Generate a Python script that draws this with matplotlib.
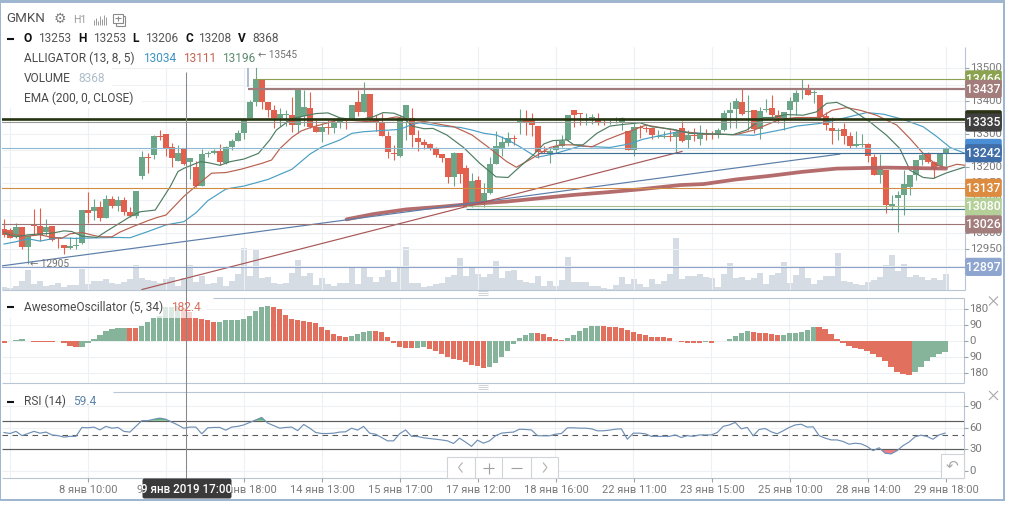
import numpy as np
import matplotlib
matplotlib.use("Agg")
import matplotlib.pyplot as plt
from matplotlib.patches import FancyBboxPatch, Rectangle

plt.rcParams['font.family'] = ['Roboto', 'DejaVu Sans']

W, H = 1016, 507

# hourly candles
opens = [13011,13009,12986,13017,12956,13025,13021,13004,13021,12986,
         12963,12955,12959,12970,13069,13067,13077,13046,13103,13081,
         13100,13062,13051,13172,13229,13237,13294,13299,13259,13219,
         13253,13216,13199,13143,13238,13243,13247,13211,13261,13280,
         13304,13350,13398,13466,13396,13372,13350,13357,13357,13327,
         13354,13379,13322,13305,13322,13319,13334,13342,13344,13396,
         13368,13421,13342,13337,13294,13241,13233,13349,13350,13287,
         13276,13269,13258,13239,13226,13170,13241,13196,13090,13160,
         13095,13122,13209,13255,13274,13287,13332,13342,13342,13324,
         13248,13238,13251,13263,13282,13373,13363,13354,13349,13342,
         13331,13335,13335,13337,13309,13251,13320,13319,13319,13292,
         13292,13294,13291,13317,13283,13298,13285,13300,13298,13300,
         13312,13364,13375,13397,13368,13372,13314,13372,13378,13357,
         13349,13372,13398,13438,13439,13423,13418,13354,13317,13310,
         13315,13293,13265,13266,13269,13231,13175,13192,13082,13106,
         13115,13140,13175,13221,13238,13216,13202,13241]
highs = [13041,13016,13031,13019,12993,13071,13074,13041,13021,12988,
         12963,12988,12986,13069,13123,13102,13098,13115,13113,13113,
         13110,13077,13127,13249,13243,13297,13312,13299,13272,13266,
         13253,13226,13219,13253,13249,13253,13270,13263,13284,13312,
         13347,13403,13545,13468,13398,13388,13380,13374,13413,13435,
         13435,13428,13342,13332,13342,13344,13349,13344,13388,13433,
         13457,13421,13358,13365,13310,13267,13358,13388,13378,13312,
         13284,13274,13261,13239,13226,13246,13243,13206,13181,13172,
         13150,13229,13309,13294,13307,13297,13375,13373,13363,13324,
         13263,13259,13282,13297,13358,13373,13365,13365,13361,13363,
         13347,13347,13352,13352,13309,13334,13327,13324,13322,13312,
         13310,13312,13314,13340,13312,13317,13326,13314,13310,13317,
         13372,13398,13408,13441,13418,13372,13382,13405,13418,13372,
         13367,13411,13433,13468,13451,13435,13418,13367,13352,13317,
         13332,13307,13309,13300,13273,13239,13239,13192,13115,13128,
         13190,13175,13221,13246,13246,13218,13243,13259]
lows = [12988,12983,12983,12950,12905,12994,12976,12994,12976,12953,
        12936,12950,12950,12966,13031,13039,13037,13046,13076,13066,
        13054,13047,13044,13163,13183,13223,13282,13233,13199,13219,
        13206,13163,13140,13143,13231,13239,13206,13209,13251,13278,
        13286,13350,13384,13377,13352,13317,13324,13324,13307,13302,
        13324,13317,13305,13276,13300,13304,13317,13314,13342,13355,
        13368,13337,13309,13295,13226,13221,13231,13282,13261,13249,
        13253,13251,13231,13214,13152,13143,13150,13077,13079,13090,
        13077,13118,13209,13233,13263,13267,13300,13297,13294,13226,
        13241,13211,13241,13261,13280,13322,13327,13327,13330,13327,
        13327,13329,13332,13312,13251,13233,13287,13307,13284,13287,
        13289,13280,13241,13276,13256,13279,13266,13281,13286,13289,
        13310,13317,13319,13357,13312,13304,13286,13367,13352,13332,
        13312,13342,13357,13405,13417,13395,13350,13312,13271,13281,
        13271,13256,13259,13259,13216,13175,13150,13059,13069,13003,
        13054,13115,13160,13206,13211,13165,13200,13198]
closes = [12994,12985,13017,12956,12990,13022,12994,13017,12978,12983,
          12955,12960,12962,13069,13061,13077,13046,13103,13081,13100,
          13064,13051,13127,13229,13226,13294,13292,13256,13227,13241,
          13208,13226,13142,13239,13243,13247,13216,13261,13280,13302,
          13344,13398,13466,13398,13374,13347,13360,13362,13327,13433,
          13382,13322,13307,13322,13319,13332,13347,13339,13388,13368,
          13421,13344,13337,13295,13246,13238,13347,13388,13297,13277,
          13267,13254,13236,13226,13170,13243,13179,13079,13157,13093,
          13120,13208,13263,13276,13287,13284,13340,13332,13327,13246,
          13245,13248,13263,13280,13358,13358,13360,13356,13351,13332,
          13329,13337,13337,13350,13251,13320,13317,13316,13297,13294,
          13294,13292,13307,13278,13296,13293,13300,13296,13296,13312,
          13364,13374,13401,13362,13371,13315,13370,13377,13357,13347,
          13366,13401,13425,13440,13419,13426,13352,13327,13310,13312,
          13293,13263,13271,13269,13233,13175,13193,13084,13087,13115,
          13147,13175,13221,13236,13216,13193,13241,13256]
volumes = [1720,980,2710,6640,14510,4180,6400,2710,3440,4920,
           1720,3440,3440,15250,4180,6400,6400,7870,4920,4180,
           5660,7870,18200,8610,7130,6400,4920,7870,9350,2710,
           8368,18200,5660,10090,4180,4920,9350,2710,6400,11560,
           30500,10090,29270,8610,9350,4920,4180,4920,12300,21650,
           10090,12300,3440,8610,4180,2710,4920,4920,17710,3940,
           16730,9100,5410,9100,14270,5410,17710,31240,4670,4670,
           1720,2950,3940,4670,9100,10580,23120,9840,17710,11320,
           9100,11320,20910,8360,13530,14270,6890,5410,4670,9840,
           2460,6150,2460,6890,23860,5410,5410,5410,2460,2460,
           740,250,3200,9100,3940,7630,3940,1720,7630,3940,
           6150,11320,37880,7630,9840,9840,11320,9100,8360,1720,
           11320,19430,8360,9100,6890,8360,12050,3940,10580,12050,
           20170,4670,10580,16480,8360,3940,6890,9840,9840,26810,
           6150,5410,3940,3200,5410,6890,9100,17960,25340,13530,
           18700,9100,10580,9100,6890,8360,6890,11320]

# indicators
ao_values = [-13,-4,3,7,-4,-5,-6,-7,-8,-4,
             -13,-30,-36,-35,-11,9,30,57,68,72,
             74,73,72,83,104,128,141,190,193,196,
             182.4,160,130,125,115,107,108,115,116,117,
             125,140,170,190,196,190,179,145,123,115,
             114,106,98,75,60,36,26,23,26,38,
             49,55,54,49,21,-13,-38,-40,-41,-40,
             -36,-47,-58,-75,-94,-104,-108,-119,-138,-143,
             -153,-147,-126,-91,-57,-17,17,32,43,42,
             38,23,11,4,17,32,55,74,83,84,
             83,77,76,72,60,51,40,32,23,22,
             21,17,-4,-5,-11,-12,-13,-9,-10,-3,
             -2,9,26,43,55,49,43,42,38,34,
             35,43,44,51,60,77,76,68,38,9,
             -11,-30,-42,-45,-58,-77,-94,-115,-149,-175,
             -187,-194,-177,-149,-113,-92,-75,-64]
rsi_values = [53.4,52,55,49,52,55,52.5,54,50,49,
              47,48,48,60.5,60,61,57,62,59.5,60.5,
              55,54,62,70,70,72,73.6,72,68,64,
              59.4,61,61,51.6,60,60.5,60.5,56.7,61,62,
              64,67.5,71,74.5,66.6,63,59.5,60.5,61,56,
              64.7,59.5,53.5,52,52,52.5,54,54.4,59.5,56.7,
              62,52.5,51,46.4,41.7,41.7,51.6,57,48,47.8,
              46,45,44,43,41.7,38,45.5,40,34,42.7,
              38.4,41.7,48.8,52.5,53.4,54,58,57.7,57,49,
              48.8,48.8,51,52,60,60,59.5,59.5,58.6,55.8,
              55.8,56.7,58,58.6,44,52.5,52.5,51.6,48,48,
              48,48,50,46.4,49,48,50,50,50,53.4,
              62,64,67.5,58.6,60.5,48.8,57.7,59,54.4,51.6,
              55.8,60.5,64,65,61,61.4,49,45.5,43,43,
              40.8,37,38.4,37.5,33.8,28,32,24.4,23.4,28,
              35,40,47.4,49.7,47.8,44,50,52.5]

jaw_bars = [0,2,4,6,9,12,16,19,21,24,27,30,32,34,37,40,44,48,51,53,56,58,60,66,68,69.3,72.7,76,78,80,82,84,86,88.8,91.5,93.8,96,98.8,101,104.3,106.5,109.3,112.4,118,124.9,129.9,132.1,136,140.4,143.8,146.6,149.9,153.2,155.4,157.7,160.2]
jaw_vals = [12966,12973,12982,12975,12985,12983,12985,12986,12985,13004,13024,13034,13061,13098,13133,13142,13162,13193,13239,13261,13282,13302,13307,13314,13329,13334,13324,13320,13312,13302,13297,13282,13261,13229,13239,13251,13263,13261,13259,13270,13284,13295,13307,13300,13296,13314,13324,13332,13350,13365,13360,13344,13322,13293,13259,13241]
teeth_bars = [0,2,4,6,8,9.6,11,13,14.5,16,18,19.3,21.5,24,25.6,27,30,32,34.6,37,39.5,43,44.6,46,48,49.5,51,56,61,63,65.4,68,70.4,72.7,75,78,81,83.8,85.4,88,91,92.7,95,98,100.4,103.2,104.9,107,109.3,111.6,113,116.6,122,125,127,129.3,132,136,138,140.4,142.7,145.4,148.8,151,153.2,155.4,157,158.8,160.2]
teeth_vals = [13004,12994,12990,12994,12986,12983,12997,13001,12994,12988,12988,13002,13019,13037,13047,13054,13111,13142,13181,13183,13193,13211,13221,13256,13290,13309,13319,13344,13337,13344,13352,13342,13337,13329,13322,13297,13256,13216,13199,13226,13259,13267,13267,13261,13282,13302,13312,13327,13320,13312,13307,13300,13298,13312,13327,13344,13350,13350,13372,13380,13372,13357,13327,13286,13241,13206,13198,13208,13205]
lips_bars = [0,2,4,6.5,8,10,11.3,13,15.5,17,18.8,21,22.7,25.2,27.7,29,30,32.7,34,36,37.7,40,42.4,44.3,45.4,46.5,48,52,54,56,58.8,61.5,63.2,65,66.5,68,70,71.5,73.8,76.6,79.3,82,84,86,88.2,90,91.5,93.8,95,96.5,98.8,101,103.2,106,108,111.6,114.3,121.5,123.8,126.6,128.2,130.4,133.2,135.4,137.1,138.8,141,144.3,147.1,149.3,151,153.2,154.9,157.1,160.2]
lips_vals = [12999,12988,12994,12997,12999,13006,13004,12990,12986,13004,13024,13049,13064,13069,13140,13186,13196,13216,13213,13205,13216,13224,13241,13282,13312,13327,13347,13362,13364,13349,13342,13352,13365,13363,13352,13324,13316,13317,13297,13259,13211,13170,13168,13201,13236,13270,13280,13282,13267,13267,13302,13324,13329,13334,13322,13314,13302,13298,13312,13350,13350,13359,13357,13367,13393,13396,13377,13337,13296,13256,13190,13168,13165,13182,13200]
ema_bars = [57.1,61.6,67,72.7,78.2,83.8,89.3,94.9,100.4,106,112.7,116.6,122,127.7,133,138.8,147,157]
ema_vals = [13041,13057,13071,13079,13088,13095,13105,13115,13123,13132,13145,13148,13162,13173,13185,13195,13198,13195]

# drawn levels: price, colour, width, first bar
level_prices = [13466,13437,13345,13335,13258,13242,13137,13080,13071,13026,12897]
level_colors = ['#8d9f55','#a07c7c','#263410','#9a9a94','#8fb9d2','#3f6f96','#d08c44','#a5c08c','#3d7c86','#9a7474','#8ea3c9']
level_widths = [0.8,1.6,1.9,0.8,0.8,0.85,0.8,0.8,0.85,0.8,0.8]
level_starts = [41.8,40.6,-1,-1,-1,89,-1,77,77,-1,-1]

trend_blue = ([-0.67,139.3],[12899,13239])
trend_red = ([23,113],[12828,13247])

# labels on the price scale, bottom of the stack first; the covered ones carry no readable text
badge_prices = [13466,13437,13345,13335,13258,13242,13137,13080,13026,12897]
badge_texts = ['13466','13437','','13335','','13242','13137','13080','13026','12897']
badge_colors = ['#8ba24e','#a37c7c','#2a3314','#404040','#4a8fd6','#406ea8','#dd8b3f','#b5cf98','#a37c7c','#8ea6cf']

xtick_bars = [14,27,40,53,66,79,92,105,118,131,144,157]
xtick_labels = ['8 янв 10:00','9 янв 14:00','10 янв 18:00','14 янв 13:00','15 янв 17:00','17 янв 12:00',
                '18 янв 16:00','22 янв 11:00','23 янв 15:00','25 янв 10:00','28 янв 14:00','29 янв 18:00']
price_ticks = [12900,12950,13000,13050,13100,13150,13200,13250,13300,13350,13400,13450,13500]
ao_ticks = [-180,-90,0,90,180]
rsi_ticks = [0,30,60,90]
crosshair_bar = 30.4

GREEN = '#6ca688'
RED = '#e3604e'
GRID = '#eef1f4'
EDGE = '#b7c5d4'
TICK = '#7a7a7a'


def px_axes(left, top, right, bottom, **kw):
    return fig.add_axes([left / W, 1 - bottom / H, (right - left) / W, (bottom - top) / H], **kw)


fig = plt.figure(figsize=(W / 100, H / 100), dpi=100, facecolor='white')

bars = np.arange(len(opens))
x_lim = (-0.333, 160.17)
o, h, l, c = map(np.array, (opens, highs, lows, closes))
up = c >= o

ax = px_axes(2, 47, 965, 289.5)
ax_vol = px_axes(2, 47, 965, 289.5)
ax_ao = px_axes(2, 297.5, 964, 383)
ax_rsi = px_axes(2, 391.5, 964, 478.3)
for a in (ax, ax_vol, ax_ao, ax_rsi):
    a.set_xlim(*x_lim)
    a.set_xticks([])
    a.set_yticks([])
    for s in a.spines.values():
        s.set_visible(False)
    a.vlines([b for b in [1] + xtick_bars], 0, 1, transform=a.get_xaxis_transform(), color=GRID, lw=0.75, zorder=0)

# price panel
ax.set_ylim(12828, 13564)
ax.patch.set_alpha(0)
ax.set_zorder(2)
ax_vol.set_zorder(1)
ax_vol.set_ylim(0, 178965)
ax_vol.bar(bars, volumes, width=0.84, color='#d6dce3', zorder=1)
ax.hlines(price_ticks, *x_lim, color=GRID, lw=0.75, zorder=0)

ax.vlines(bars[up], l[up], h[up], color=GREEN, lw=0.8, zorder=2)
ax.vlines(bars[~up], l[~up], h[~up], color=RED, lw=0.8, zorder=2)
ax.bar(bars[up], (c - o)[up], bottom=o[up], width=0.84, color=GREEN, zorder=3)
ax.bar(bars[~up], (o - c)[~up], bottom=c[~up], width=0.84, color=RED, zorder=3)

ax.plot(jaw_bars, jaw_vals, color='#4a9fc4', lw=0.85, zorder=4)
ax.plot(teeth_bars, teeth_vals, color='#b8604e', lw=0.85, zorder=4)
ax.plot(lips_bars, lips_vals, color='#4f7d62', lw=0.85, zorder=4)
ax.plot(ema_bars, ema_vals, color='#b06464', lw=2.7, solid_capstyle='round', zorder=4, alpha=0.95)
ax.plot(*trend_blue, color='#5b7da9', lw=0.85, zorder=4)
ax.plot(*trend_red, color='#a85656', lw=0.85, zorder=4)
ax.vlines(40.67, 13444, 13500, color='#aebcd3', lw=1.4, zorder=4)

for price, col, lw, start in zip(level_prices, level_colors, level_widths, level_starts):
    ax.hlines(price, start, x_lim[1], color=col, lw=lw, zorder=5)

# oscillator panel
ax_ao.set_ylim(-239, 244.5)
ax_ao.hlines(ao_ticks, *x_lim, color=GRID, lw=0.75, zorder=0)
ao = np.array(ao_values, dtype=float)
ao_up = np.diff(ao, prepend=ao[0] + 1) > 0
ax_ao.bar(bars, ao, width=0.88, color=np.where(ao_up, '#85b49a', '#e2705f'), zorder=2)

# rsi panel
ax_rsi.set_ylim(-10.8, 110.9)
ax_rsi.hlines(rsi_ticks, *x_lim, color=GRID, lw=0.75, zorder=0)
rsi = np.array(rsi_values)
ax_rsi.hlines([70, 30], *x_lim, color='#5c5c5c', lw=0.85, zorder=3)
ax_rsi.hlines(50, *x_lim, color='#5c5c5c', lw=0.8, linestyles=(0, (5, 4)), zorder=3)
ax_rsi.fill_between(bars, rsi, 70, where=rsi > 70, interpolate=True, color='#5cb878', lw=0, zorder=2)
ax_rsi.fill_between(bars, rsi, 30, where=rsi < 30, interpolate=True, color='#f07f86', lw=0, zorder=2)
ax_rsi.plot(bars, rsi, color='#6f8fb5', lw=0.85, zorder=4)

# everything else sits on a canvas measured in image pixels
top = fig.add_axes([0, 0, 1, 1], zorder=10)
top.set_xlim(0, W)
top.set_ylim(H, 0)
top.axis('off')
top.patch.set_alpha(0)


def txt(x, y, s, size=8.6, color='#4a4a4a', ha='left', weight='normal', z=20):
    top.text(x, y, s, fontsize=size, color=color, ha=ha, va='center', fontweight=weight, zorder=z)


def rule(x0, y0, x1, y1, color=EDGE, lw=0.8, z=12):
    top.plot([x0, x1], [y0, y1], color=color, lw=lw, zorder=z, solid_capstyle='butt')


def bar_px(i):
    return 4 + (i * 6)


def price_py(v):
    return H - ax.transData.transform((0, v))[1]


def value_py(a, v):
    return H - a.transData.transform((0, v))[1]


# panel edges
rule(965, 47, 965, 289.5)
rule(2, 289.5, 965, 289.5)
rule(213, 297.5, 964, 297.5)
rule(964, 297.5, 964, 383)
rule(2, 383, 964, 383)
rule(113, 391.5, 964, 391.5)
rule(964, 391.5, 964, 478.3)
rule(2, 478.3, 964, 478.3)

# legend backgrounds hide whatever runs beneath them
top.add_patch(Rectangle((2, 47), 255.5, 21, color='white', lw=0, zorder=11))
top.add_patch(Rectangle((2, 68), 110, 20, color='white', lw=0, zorder=11))
top.add_patch(Rectangle((2, 88), 140, 20, color='white', lw=0, zorder=11))
top.add_patch(Rectangle((2, 298), 205, 20, color='white', alpha=0.72, lw=0, zorder=11))
top.add_patch(Rectangle((2, 392), 111, 13, color='white', lw=0, zorder=11))

# crosshair
cross_x = bar_px(crosshair_bar)
rule(cross_x, 72, cross_x, 480, color='#85888c', lw=0.75, z=13)

# y scales
for v in price_ticks:
    if v == 12900:
        continue
    py = price_py(v)
    rule(965, py, 969, py, color='#9aa4ae')
    txt(970, py, str(v), size=8.2, color=TICK, z=14)
for v in ao_ticks:
    py = value_py(ax_ao, v)
    rule(964, py, 968, py, color='#9aa4ae')
    txt(969, py, str(abs(v)), size=8.2, color=TICK)
for v in rsi_ticks:
    py = value_py(ax_rsi, v)
    rule(964, py, 968, py, color='#9aa4ae')
    txt(969, py, str(v), size=8.2, color=TICK)

for z_step, (price, label, col) in enumerate(zip(badge_prices, badge_texts, badge_colors)):
    py = price_py(price)
    z = 15 + z_step * 0.1
    top.add_patch(FancyBboxPatch((966, py - 8.2), 35, 16.6, boxstyle='round,pad=0.8,rounding_size=2',
                                 fc=col, ec='none', zorder=z))
    top.text(983.5, py + 0.4, label, fontsize=8.8, color='white', ha='center', va='center',
             fontweight='medium', zorder=z + 0.05)

# x scale
for b, label in zip(xtick_bars, xtick_labels):
    bx = bar_px(b)
    rule(bx, 478.3, bx, 482, color='#9aa4ae')
    txt(bx, 489.7, label, size=8.0, color=TICK, ha='center')

# hovered time
top.add_patch(FancyBboxPatch((144, 480), 86, 17, boxstyle='round,pad=1.5,rounding_size=2',
                             fc='#3a3a3a', ec='none', zorder=21))
top.text(187, 489.5, '9 янв 2019 17:00', fontsize=8.4, color='white', ha='center', va='center',
         fontweight='medium', zorder=22)

# header
txt(6, 19, 'GMKN', size=9.6, color='#505050')
top.text(60, 18.5, '\u2699', fontsize=10, color='#808080', ha='center', va='center',
         family='DejaVu Sans', zorder=20)
txt(73, 20, 'H1', size=7.6, color='#9a9a9a')
for i, hgt in enumerate([5, 7, 4, 9, 6, 10, 8]):
    rule(93.5 + i * 2, 24.5, 93.5 + i * 2, 24.5 - hgt, color='#9a9a9a', lw=0.7)
top.add_patch(Rectangle((113, 13.5), 9.5, 9.5, fc='none', ec='#8a8a8a', lw=0.8, zorder=20))
rule(122.5, 16, 125, 16, color='#8a8a8a', z=20)
rule(125, 16, 125, 25.5, color='#8a8a8a', z=20)
rule(115.5, 25.5, 125, 25.5, color='#8a8a8a', z=20)
rule(115.5, 23, 115.5, 25.5, color='#8a8a8a', z=20)
rule(115, 18.2, 120.5, 18.2, color='#8a8a8a', z=20)
rule(117.8, 15.5, 117.8, 21, color='#8a8a8a', z=20)

# legend rows
for y in (38.5, 307, 402):
    rule(7, y, 14, y, color='#111111', lw=1.5, z=20)
for x, letter, x2, val in [(24, 'O', 38, '13253'), (78, 'H', 93, '13253'), (132, 'L', 145, '13206'),
                           (185, 'C', 198, '13208'), (238, 'V', 252, '8368')]:
    txt(x, 38.5, letter, color='#111111', weight='bold')
    txt(x2, 38.5, val, color='#555555')

txt(24, 58.5, 'ALLIGATOR (13, 8, 5)')
txt(143, 58.5, '13034', color='#3c93c2')
txt(183, 58.5, '13111', color='#c8614f')
txt(222, 58.5, '13196', color='#5d8a6e')
txt(24, 78.5, 'VOLUME')
txt(78, 78.5, '8368', color='#aebccb')
txt(24, 98.5, 'EMA (200, 0, CLOSE)')
txt(24, 307.5, 'AwesomeOscillator (5, 34)')
txt(171, 307.5, '182.4', color='#d8705f')
txt(24, 401.5, 'RSI (14)')
txt(73, 401.5, '59.4', color='#5c84ab')

# extreme price marks
txt(258, 55, '\u2190 13545', size=7.2, color='#707070')
txt(30, 264, '\u2190 12905', size=7.2, color='#707070', z=14)

# chart navigation buttons
top.add_patch(Rectangle((447, 457), 111, 21.3, fc='white', ec='#d0d4d8', lw=0.8, zorder=16))
for bx in (474.5, 502, 530.5):
    rule(bx, 457, bx, 478.3, color='#d0d4d8', z=17)
rule(462.5, 462.5, 458.5, 467.5, color='#b0b0b0', z=17)
rule(458.5, 467.5, 462.5, 472.5, color='#b0b0b0', z=17)
rule(483, 468, 494, 468, color='#a0a0a0', z=17)
rule(488.5, 462.5, 488.5, 473.5, color='#a0a0a0', z=17)
rule(511, 468, 522, 468, color='#a0a0a0', z=17)
rule(543, 462.5, 547, 467.5, color='#b0b0b0', z=17)
rule(547, 467.5, 543, 472.5, color='#b0b0b0', z=17)
top.add_patch(Rectangle((941, 454), 23, 24.3, fc='white', ec='#d0d4d8', lw=0.8, zorder=16))
top.text(952.5, 466, '\u21b6', fontsize=11, color='#a8a8a8', ha='center', va='center', family='DejaVu Sans', zorder=17)

# close crosses
for cy in (301, 395.5):
    rule(989, cy - 4.5, 998, cy + 4.5, color='#a8a8a8')
    rule(989, cy + 4.5, 998, cy - 4.5, color='#a8a8a8')

# panel resize handles
for cy in (293, 387):
    for dy in (-1.6, 0, 1.6):
        rule(478, cy + dy, 488, cy + dy, color='#c6ccd2', lw=0.6)

# window frame
frame = '#9fb6d0'
top.add_patch(Rectangle((0, 0), 1005, 2.6, color=frame, lw=0, zorder=25))
top.add_patch(Rectangle((0, 0), 1.4, 501, color=frame, lw=0, zorder=25))
top.add_patch(Rectangle((1003.3, 0), 2, 501, color=frame, lw=0, zorder=25))
top.add_patch(Rectangle((0, 499.2), 1005.3, 2, color=frame, lw=0, zorder=25))

fig.savefig('out.png', dpi=100, facecolor='white')
